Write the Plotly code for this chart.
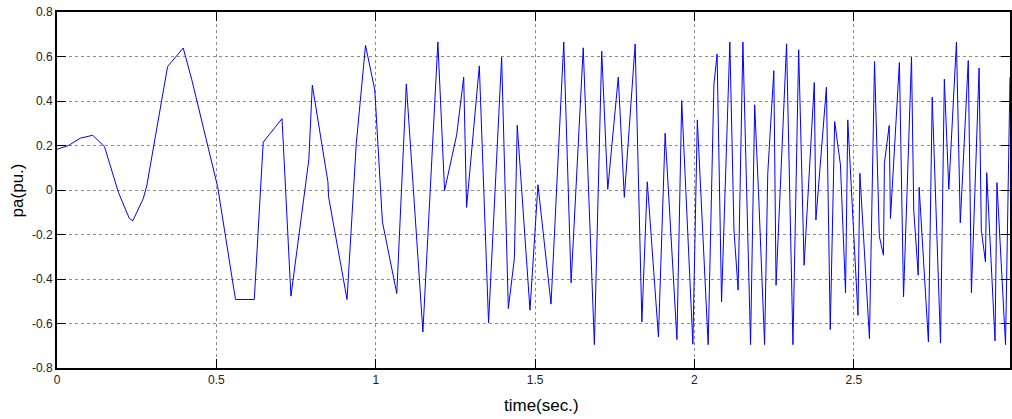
import plotly.graph_objects as go

time_s = [0.000, 0.036, 0.073, 0.112, 0.149, 0.193, 0.227, 0.238, 0.271, 0.282,
          0.347, 0.396, 0.423, 0.485, 0.504, 0.560, 0.619, 0.647, 0.706, 0.734,
          0.790, 0.801, 0.850, 0.852, 0.910, 0.939, 0.968, 0.997, 1.021, 1.066,
          1.096, 1.148, 1.195, 1.216, 1.254, 1.276, 1.285, 1.325, 1.354, 1.395,
          1.416, 1.435, 1.444, 1.484, 1.509, 1.550, 1.590, 1.613, 1.651, 1.686,
          1.709, 1.728, 1.761, 1.780, 1.814, 1.835, 1.852, 1.887, 1.908, 1.945,
          1.960, 1.995, 2.009, 2.043, 2.061, 2.071, 2.085, 2.111, 2.124, 2.137,
          2.152, 2.176, 2.189, 2.202, 2.220, 2.230, 2.249, 2.256, 2.289, 2.309,
          2.327, 2.344, 2.376, 2.381, 2.414, 2.426, 2.440, 2.458, 2.474, 2.481,
          2.513, 2.519, 2.549, 2.565, 2.580, 2.593, 2.596, 2.611, 2.615, 2.643,
          2.656, 2.681, 2.688, 2.702, 2.705, 2.734, 2.746, 2.772, 2.784, 2.798,
          2.822, 2.834, 2.859, 2.869, 2.893, 2.900, 2.913, 2.917, 2.943, 2.949,
          2.966, 2.976, 2.990]
pa_pu = [0.183, 0.200, 0.233, 0.246, 0.195, -0.012, -0.128, -0.138, -0.037, 0.022,
         0.555, 0.638, 0.495, 0.120, 0.015, -0.492, -0.492, 0.215, 0.321, -0.477,
         0.135, 0.471, 0.037, -0.030, -0.492, 0.210, 0.650, 0.450, -0.143, -0.465,
         0.477, -0.638, 0.665, -0.003, 0.248, 0.507, -0.078, 0.558, -0.597, 0.597,
         -0.533, -0.308, 0.291, -0.540, 0.024, -0.513, 0.665, -0.417, 0.639, -0.695,
         0.624, 0.003, 0.507, -0.033, 0.656, -0.593, 0.037, -0.660, 0.255, -0.672,
         0.402, -0.693, 0.315, -0.695, 0.473, 0.611, -0.503, 0.665, -0.180, -0.450,
         0.665, -0.695, 0.383, -0.045, -0.695, 0.075, 0.536, -0.428, 0.657, -0.695,
         0.630, -0.338, 0.483, -0.135, 0.462, -0.627, 0.308, 0.113, -0.462, 0.315,
         -0.563, 0.075, -0.668, 0.578, -0.207, -0.293, 0.120, 0.290, -0.128, 0.573,
         -0.480, 0.597, -0.090, -0.383, 0.012, -0.683, 0.417, -0.688, 0.498, 0.003,
         0.665, -0.147, 0.582, -0.462, 0.548, -0.180, -0.323, 0.078, -0.678, 0.033,
         -0.390, -0.695, 0.507]

x_ticks = [0, 0.5, 1, 1.5, 2, 2.5]
x_tick_labels = ["0", "0.5", "1", "1.5", "2", "2.5"]
y_ticks = [0.8, 0.6, 0.4, 0.2, 0, -0.2, -0.4, -0.6, -0.8]
y_tick_labels = ["0.8", "0.6", "0.4", "0.2", "0", "-0.2", "-0.4", "-0.6", "-0.8"]

FONT = "Liberation Sans, Arial, sans-serif"

fig = go.Figure()
fig.add_trace(go.Scatter(x=time_s, y=pa_pu, mode="lines",
                         line=dict(color="#0000FF", width=1), showlegend=False))

axis_common = dict(
    showline=True, linecolor="black", linewidth=2, mirror="allticks",
    ticks="inside", ticklen=9, tickcolor="black", tickwidth=1,
    showgrid=True, gridcolor="#8c8c8c", griddash="dot", gridwidth=1,
    zeroline=False, automargin=False, ticklabeloverflow="allow",
    tickfont=dict(family=FONT, size=12, color="#222222"),
)

fig.update_layout(
    width=1012, height=419,
    margin=dict(l=57, r=2, t=12, b=51),
    paper_bgcolor="white", plot_bgcolor="white",
    xaxis=dict(range=[0, 2.99], tickvals=x_ticks, ticktext=x_tick_labels, **axis_common),
    yaxis=dict(range=[-0.8, 0.8], tickvals=y_ticks, ticktext=y_tick_labels, **axis_common),
    annotations=[
        dict(text="time(sec.)", xref="paper", yref="paper", x=0.508, y=-0.104,
             xanchor="center", yanchor="middle", showarrow=False,
             font=dict(family=FONT, size=17, color="black")),
        dict(text="pa(pu.)", xref="paper", yref="paper", x=-0.0295, y=0.5,
             xanchor="right", yanchor="middle", textangle=-90, showarrow=False,
             font=dict(family=FONT, size=17, color="black")),
    ],
)

fig.write_html(
    "out.html",
    config={"displayModeBar": False},
    post_script="document.body.style.margin='0';document.body.style.overflow='hidden';",
)
